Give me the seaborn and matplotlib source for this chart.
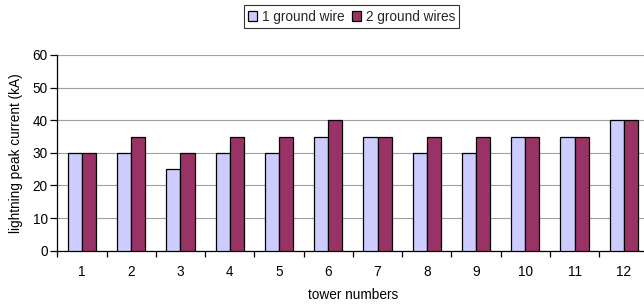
import matplotlib
matplotlib.use("Agg")
import matplotlib.pyplot as plt
import seaborn as sns
import pandas as pd
from matplotlib.ticker import FixedLocator, NullFormatter, FixedFormatter

towers = ["1", "2", "3", "4", "5", "6", "7", "8", "9", "10", "11", "12"]
one_wire = [30, 30, 25, 30, 30, 35, 35, 30, 30, 35, 35, 40]
two_wires = [30, 35, 30, 35, 35, 40, 35, 35, 35, 35, 35, 40]
series_names = ["1 ground wire", "2 ground wires"]

df = pd.DataFrame({
    "tower": towers * 2,
    "current": one_wire + two_wires,
    "series": [series_names[0]] * len(towers) + [series_names[1]] * len(towers),
})

sns.set_theme(style="white")
plt.rcParams["font.family"] = ["Liberation Sans", "DejaVu Sans"]

FS = 9.8

fig = plt.figure(figsize=(6.44, 3.06), dpi=100)
ax = fig.add_axes([57.3 / 644, 1 - 250.7 / 306, (648.5 - 57.3) / 644, (250.7 - 55) / 306])

sns.barplot(data=df, x="tower", y="current", hue="series", order=towers,
            hue_order=series_names, palette=["#CCCCFF", "#993366"],
            width=0.575, edgecolor="black", linewidth=0.9, saturation=1,
            ax=ax, zorder=3)

ax.set_xlim(-0.5, 11.5)
ax.set_ylim(0, 60)
ax.set_yticks(range(0, 61, 10))
ax.yaxis.grid(True, color="#A0A0A0", linewidth=0.8, zorder=0)
ax.xaxis.grid(False)
ax.set_axisbelow(True)

for s in ["top", "right"]:
    ax.spines[s].set_visible(False)
ax.spines["left"].set_color("black")
ax.spines["bottom"].set_color("black")
ax.spines["left"].set_linewidth(0.9)
ax.spines["bottom"].set_linewidth(0.9)

ax.xaxis.set_major_locator(FixedLocator([i - 0.5 for i in range(13)]))
ax.xaxis.set_major_formatter(NullFormatter())
ax.xaxis.set_minor_locator(FixedLocator(list(range(12))))
ax.xaxis.set_minor_formatter(FixedFormatter(towers))
ax.tick_params(axis="x", which="major", direction="out", length=4, width=0.9, color="black", bottom=True)
ax.tick_params(axis="x", which="minor", length=0, labelsize=FS, pad=10, colors="black", bottom=True)
ax.tick_params(axis="y", which="major", direction="out", length=5, width=0.9, color="black",
               labelsize=FS, pad=2, left=True, labelcolor="black")

ax.set_xlabel("tower numbers", fontsize=FS, color="black", labelpad=7)
ax.set_ylabel("lightning peak current (kA)", fontsize=FS, color="black", labelpad=7)

leg = ax.legend(loc="center", bbox_to_anchor=(351.5 / 644, 1 - 16.5 / 306),
                bbox_transform=fig.transFigure, ncol=2, frameon=True, fancybox=False,
                edgecolor="black", fontsize=FS, handlelength=0.7, handleheight=0.7,
                handletextpad=0.35, columnspacing=0.5, borderpad=0.3, borderaxespad=0)
leg.get_frame().set_linewidth(0.8)

fig.savefig("out.png", dpi=100)
